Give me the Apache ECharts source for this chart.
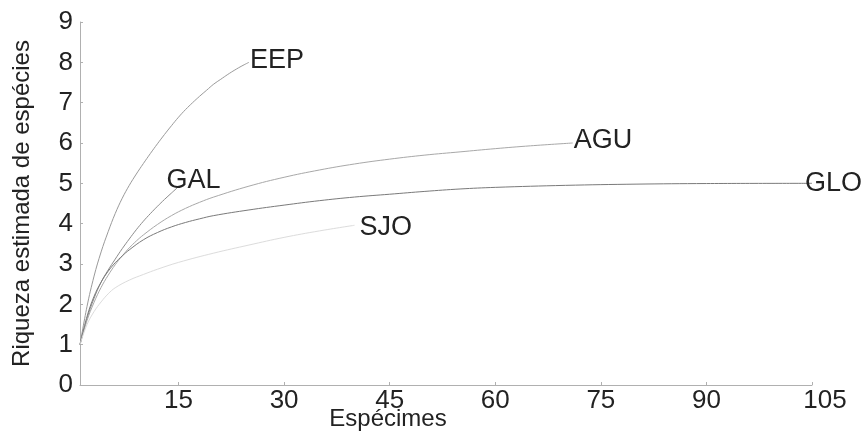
<!DOCTYPE html>
<html><head><meta charset="utf-8">
<script src="https://cdn.jsdelivr.net/npm/echarts@6/dist/echarts.min.js"></script>
<style>html,body{margin:0;padding:0;background:#fff}#c{width:865px;height:434px}</style>
</head><body><div id="c"></div>
<script>
var xTicks = [15, 30, 45, 60, 75, 90, 105];
var yTicks = [0, 1, 2, 3, 4, 5, 6, 7, 8, 9];

var eepX = [1,2,3,4,5,6,7,8,9,10,11,12,13,14,15,16,17,18,19,20,21,22,23,24,25];
var eepY = [1,1.95,2.7,3.3,3.8,4.25,4.63,4.95,5.23,5.49,5.74,5.98,6.21,6.43,6.64,6.83,7.0,7.16,7.31,7.46,7.58,7.7,7.81,7.91,8.0];

var galX = [1,2,3,4,5,6,7,8,9,10,11,12,13,14,15];
var galY = [1,1.65,2.15,2.55,2.85,3.12,3.38,3.62,3.85,4.06,4.25,4.43,4.6,4.76,4.92];

var aguX = [1,2,3,4,5,6,7,8,9,10,12,14,16,18,20,25,30,35,40,45,50,55,60,65,71];
var aguY = [1,1.6,2.05,2.42,2.72,2.98,3.2,3.4,3.57,3.72,3.98,4.2,4.38,4.53,4.66,4.93,5.15,5.33,5.48,5.6,5.7,5.78,5.86,5.93,6.0];

var gloX = [1,2,3,4,5,6,7,8,10,12,14,16,18,20,25,30,35,40,45,50,55,60,70,80,90,105];
var gloY = [1,1.7,2.2,2.55,2.82,3.03,3.2,3.35,3.6,3.78,3.92,4.03,4.12,4.2,4.34,4.46,4.57,4.66,4.73,4.8,4.86,4.9,4.95,4.98,4.995,5.0];

var sjoX = [1,2,3,4,5,6,8,10,12,15,20,25,30,35,40];
var sjoY = [1,1.5,1.82,2.06,2.26,2.41,2.6,2.74,2.87,3.04,3.27,3.47,3.66,3.82,3.96];

function pairs(xs, ys){ return xs.map(function(x,i){ return [x, ys[i]]; }); }

function mk(name, xs, ys, color, width, off){
  return {
    type:'line', name:name, data:pairs(xs,ys), smooth:0.4,
    showSymbol:false, symbol:'none',
    lineStyle:{color:color, width:width},
    endLabel:{show:true, formatter:name, fontFamily:'Liberation Sans', fontSize:27, color:'#222', distance:1, offset:off}
  };
}

var chart = echarts.init(document.getElementById('c'), null, {renderer:'canvas'});
chart.setOption({
  animation:false,
  backgroundColor:'#fff',
  grid:{left:80, right:53, top:22, bottom:49, containLabel:false, outerBoundsMode:'none'},
  xAxis:{
    type:'value', min:1, max:105,
    name:'Espécimes', nameLocation:'middle', nameGap:22, nameMoveOverlap:false,
    nameTextStyle:{fontFamily:'Liberation Sans', fontSize:24, color:'#222', padding:[0,116,0,0]},
    axisLine:{show:true, lineStyle:{color:'#b0b0b0', width:1}},
    axisTick:{show:true, inside:true, length:3, customValues:xTicks, lineStyle:{color:'#b0b0b0'}},
    axisLabel:{customValues:xTicks, margin:3, fontFamily:'Liberation Sans', fontSize:26, color:'#222',
      formatter:function(v){ return v===105 ? '{r|105}' : String(v); },
      rich:{r:{fontFamily:'Liberation Sans', fontSize:26, color:'#222', padding:[0,0,0,26]}}},
    splitLine:{show:false}
  },
  yAxis:{
    type:'value', min:0, max:9, interval:1,
    name:'Riqueza estimada de espécies', nameLocation:'middle', nameGap:46, nameMoveOverlap:false,
    nameTextStyle:{fontFamily:'Liberation Sans', fontSize:24, color:'#222'},
    axisLine:{show:true, lineStyle:{color:'#b0b0b0', width:1}},
    axisTick:{show:true, inside:true, length:3, lineStyle:{color:'#b0b0b0'}},
    axisLabel:{margin:7, fontFamily:'Liberation Sans', fontSize:26, color:'#222',
      formatter:function(v){ return String(v); }},
    splitLine:{show:false}
  },
  series:[
    mk('EEP', eepX, eepY, '#9a9a9a', 1, [0,-2]),
    mk('GAL', galX, galY, '#8c8c8c', 1, [-13,-6]),
    mk('AGU', aguX, aguY, '#a8a8a8', 1, [0,-2]),
    mk('GLO', gloX, gloY, '#7a7a7a', 1, [-8,0]),
    mk('SJO', sjoX, sjoY, '#dcdcdc', 1, [4,2])
  ]
});
</script></body></html>
